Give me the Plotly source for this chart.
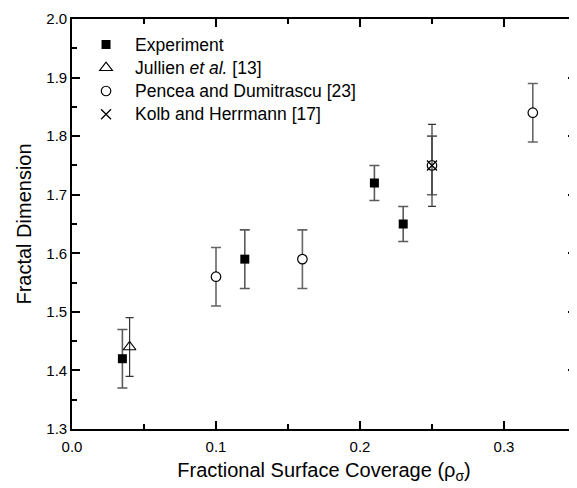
import plotly.graph_objects as go

exp_x = [0.035, 0.12, 0.21, 0.23]
exp_y = [1.42, 1.59, 1.72, 1.65]
exp_err = [0.05, 0.05, 0.03, 0.03]

jul_x = [0.04]
jul_y = [1.44]
jul_err = [0.05]

pen_x = [0.10, 0.16, 0.25, 0.32]
pen_y = [1.56, 1.59, 1.75, 1.84]
pen_err = [0.05, 0.05, 0.05, 0.05]

kolb_x = [0.25]
kolb_y = [1.75]
kolb_err = [0.07]

series_names = ["Experiment", "Jullien <i>et al.</i> [13]",
                "Pencea and Dumitrascu [23]", "Kolb and Herrmann [17]"]

FONT = "Liberation Sans, Arial, sans-serif"


def lbl(t):
    return "<span style='font-size:17.5px'>" + t + "</span>"


fig = go.Figure()
fig.add_trace(go.Scatter(x=exp_x, y=exp_y, mode="markers", name=lbl(series_names[0]),
                         marker=dict(symbol="square", size=9, color="black"),
                         error_y=dict(type="data", array=exp_err, color="#5a5a5a", thickness=1.6, width=5)))
fig.add_trace(go.Scatter(x=jul_x, y=jul_y, mode="markers", name=lbl(series_names[1]),
                         marker=dict(symbol="triangle-up-open", size=11, color="black", line=dict(width=1.2)),
                         error_y=dict(type="data", array=jul_err, color="#333333", thickness=1.2, width=4)))
fig.add_trace(go.Scatter(x=pen_x, y=pen_y, mode="markers", name=lbl(series_names[2]),
                         marker=dict(symbol="circle", size=9.5, color="white", line=dict(width=1.2, color="black")),
                         error_y=dict(type="data", array=pen_err, color="#666666", thickness=1.6, width=5)))
fig.add_trace(go.Scatter(x=kolb_x, y=kolb_y, mode="markers", name=lbl(series_names[3]),
                         marker=dict(symbol="x-thin-open", size=10, color="black", line=dict(width=1.3, color="black")),
                         error_y=dict(type="data", array=kolb_err, color="#333333", thickness=1.2, width=4)))

axis_common = dict(showline=True, linecolor="black", linewidth=1.6, mirror="ticks",
                   ticks="inside", ticklen=8, tickwidth=1.5, tickcolor="black",
                   showgrid=False, zeroline=False,
                   tickfont=dict(family=FONT, size=15, color="black"))

fig.update_xaxes(range=[0, 0.35], dtick=0.1, tick0=0, tickformat=".1f", ticklabelstandoff=3,
                 minor=dict(ticks="inside", ticklen=5, tickwidth=1.5, tickcolor="black", dtick=0.05, tick0=0),
                 title=dict(text="Fractional Surface Coverage (ρ<sub>σ</sub>)",
                            font=dict(family=FONT, size=20, color="black"), standoff=9),
                 **axis_common)
fig.update_yaxes(range=[1.3, 2.0], dtick=0.1, tick0=1.3, tickformat=".1f",
                 minor=dict(ticks="inside", ticklen=5, tickwidth=1.5, tickcolor="black", dtick=0.05, tick0=1.3),
                 title=dict(text="Fractal Dimension", font=dict(family=FONT, size=20, color="black"), standoff=9),
                 **axis_common)

fig.update_layout(
    width=570, height=480,
    margin=dict(l=64, r=0, t=11, b=59),
    paper_bgcolor="white", plot_bgcolor="white",
    font=dict(family=FONT, size=15.6, color="black"),
    showlegend=True,
    legend=dict(x=0.01, y=0.9785, xanchor="left", yanchor="top",
                bgcolor="rgba(0,0,0,0)", font=dict(family=FONT, size=15.6, color="black"),
                tracegroupgap=0, itemwidth=48),
)

fig.write_html("out.html")
